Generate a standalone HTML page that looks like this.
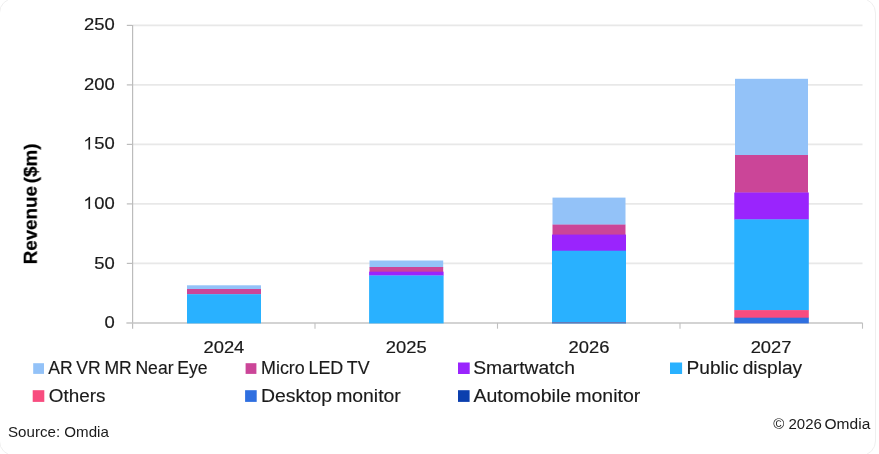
<!DOCTYPE html>
<html><head><meta charset="utf-8">
<style>
html,body{margin:0;padding:0;background:#fff;}
body{width:879px;height:454px;overflow:hidden;position:relative;font-family:"Liberation Sans",sans-serif;}
#card{position:absolute;left:-1px;top:-2px;width:877px;height:458px;border:1px solid #efefef;border-radius:15px;box-sizing:border-box;}
svg{position:absolute;left:0;top:0;}
svg text{font-family:"Liberation Sans",sans-serif;fill:#1a1a1a;}
#txt{filter:grayscale(1);}
</style></head><body>
<div id="card"></div>
<svg width="879" height="454" viewBox="0 0 879 454">
<!-- gridlines -->
<g stroke="#e8e8e8" stroke-width="1.7" fill="none">
<line x1="133" y1="25.4" x2="862.5" y2="25.4"/>
<line x1="133" y1="84.9" x2="862.5" y2="84.9"/>
<line x1="133" y1="144.4" x2="862.5" y2="144.4"/>
<line x1="133" y1="203.9" x2="862.5" y2="203.9"/>
<line x1="133" y1="263.4" x2="862.5" y2="263.4"/>
</g>
<!-- axes -->
<g stroke="#bcbcbc" stroke-width="1.2" fill="none">
<line x1="132.6" y1="24.9" x2="132.6" y2="328.7"/>
<line x1="126.8" y1="25.4" x2="132.6" y2="25.4"/>
<line x1="126.8" y1="84.9" x2="132.6" y2="84.9"/>
<line x1="126.8" y1="144.4" x2="132.6" y2="144.4"/>
<line x1="126.8" y1="203.9" x2="132.6" y2="203.9"/>
<line x1="126.8" y1="263.4" x2="132.6" y2="263.4"/>
</g>
<g stroke="#c4c4c4" stroke-width="1.5" fill="none">
<line x1="126.4" y1="322.9" x2="862.5" y2="322.9"/>
</g>
<g stroke="#c0c0c0" stroke-width="1.1" fill="none">
<line x1="315" y1="322.9" x2="315" y2="328.7"/>
<line x1="497.5" y1="322.9" x2="497.5" y2="328.7"/>
<line x1="680" y1="322.9" x2="680" y2="328.7"/>
<line x1="862.5" y1="322.9" x2="862.5" y2="328.7"/>
</g>
<!-- bars -->
<g id="b2024">
<rect x="187" y="285.3" width="74" height="4" fill="#93c2f8"/>
<rect x="187" y="289" width="74" height="5.4" fill="#cb4598"/>
<rect x="187" y="294.2" width="74" height="29.2" fill="#29b1ff"/>
</g>
<g id="b2025">
<rect x="369.5" y="260.5" width="73.7" height="7" fill="#93c2f8"/>
<rect x="369.5" y="267" width="73.7" height="5" fill="#cb4598"/>
<rect x="369.1" y="271.7" width="74.5" height="4" fill="#9a24fd"/>
<rect x="369.1" y="275.5" width="74.5" height="47.9" fill="#29b1ff"/>
</g>
<g id="b2026">
<rect x="552.5" y="197.6" width="73" height="27.2" fill="#93c2f8"/>
<rect x="552.5" y="224.6" width="73" height="10.4" fill="#cb4598"/>
<rect x="552" y="234.6" width="74" height="16.4" fill="#9a24fd"/>
<rect x="552" y="250.7" width="74" height="72.7" fill="#29b1ff"/>
<rect x="552" y="322.1" width="74" height="1.3" fill="#6a74ae"/>
</g>
<g id="b2027">
<rect x="735" y="78.8" width="73" height="76.4" fill="#93c2f8"/>
<rect x="735" y="155" width="73" height="37.8" fill="#cb4598"/>
<rect x="734.3" y="192.5" width="74.5" height="27.2" fill="#9a24fd"/>
<rect x="734.3" y="219.4" width="74.5" height="91" fill="#29b1ff"/>
<rect x="734.3" y="310.1" width="74.5" height="8" fill="#f84c7f"/>
<rect x="734.3" y="317.7" width="74.5" height="5.7" fill="#2f6fe0"/>
</g>
<!-- legend swatches -->
<g id="sw">
<rect x="33.2" y="363.2" width="10.8" height="10.7" fill="#93c2f8"/>
<rect x="245.6" y="363.2" width="10.8" height="10.7" fill="#cb4598"/>
<rect x="458" y="362.5" width="11.7" height="11.5" fill="#9a24fd"/>
<rect x="670" y="362.5" width="12.1" height="11.5" fill="#29b1ff"/>
<rect x="32.7" y="390.2" width="11.6" height="11.7" fill="#f84c7f"/>
<rect x="245.1" y="390.2" width="11.6" height="11.7" fill="#2f6fe0"/>
<rect x="458" y="390.2" width="11.6" height="11.7" fill="#0b3fae"/>
</g>
<g id="txt">
<!-- y labels -->
<g font-size="17.3" text-anchor="end" transform="translate(114.7,-0.9) scale(1.065,1)" style="stroke:#1a1a1a;stroke-width:0.2px">
<text x="0" y="31.2">250</text>
<text x="0" y="90.8">200</text>
<path transform="translate(-29.56,150.4) scale(0.008447,-0.008447)" d="M763 0H583V1147Q518 1085 412.5 1023Q307 961 223 930V1104Q374 1175 487 1276Q600 1377 647 1472H763Z" fill="#1a1a1a"/><text x="0" y="150.4"><tspan style="fill:none;stroke:none">1</tspan>50</text>
<path transform="translate(-29.56,210) scale(0.008447,-0.008447)" d="M763 0H583V1147Q518 1085 412.5 1023Q307 961 223 930V1104Q374 1175 487 1276Q600 1377 647 1472H763Z" fill="#1a1a1a"/><text x="0" y="210"><tspan style="fill:none;stroke:none">1</tspan>00</text>
<text x="0" y="269.6">50</text>
<text x="0" y="329.2">0</text>
</g>
<!-- x labels -->
<g font-size="17.1" text-anchor="middle" style="stroke:#1a1a1a;stroke-width:0.2px">
<text transform="translate(223.9,353.2) scale(1.075,1)">2024</text>
<text transform="translate(406.2,353.2) scale(1.075,1)">2025</text>
<text transform="translate(589,353.2) scale(1.075,1)">2026</text>
<text transform="translate(771.1,353.2) scale(1.075,1)">2027</text>
</g>
<!-- y title -->
<text transform="translate(36.7,204) rotate(-90)" font-size="18.8" font-weight="bold" text-anchor="middle" word-spacing="-2.4" style="fill:#000;stroke:#000;stroke-width:0.25px">Revenue ($m)</text>
<!-- legend -->
<g id="legend" font-size="17.5" word-spacing="-1.2" style="stroke:#1a1a1a;stroke-width:0.15px">
<text x="48.2" y="373.7" textLength="159.3" lengthAdjust="spacingAndGlyphs">AR VR MR Near Eye</text>
<text x="261" y="373.7" textLength="108.6" lengthAdjust="spacingAndGlyphs">Micro LED TV</text>
<text x="473.2" y="373.7" textLength="101.8" lengthAdjust="spacingAndGlyphs">Smartwatch</text>
<text x="686.6" y="373.7" textLength="115.6" lengthAdjust="spacingAndGlyphs">Public display</text>
<text x="48.8" y="401.7" textLength="56.6" lengthAdjust="spacingAndGlyphs">Others</text>
<text x="261" y="401.7" textLength="139.8" lengthAdjust="spacingAndGlyphs">Desktop monitor</text>
<text x="473.4" y="401.7" textLength="167" lengthAdjust="spacingAndGlyphs">Automobile monitor</text>
</g>
<!-- footer -->
<text x="8" y="437.2" font-size="15" textLength="100.8" lengthAdjust="spacingAndGlyphs">Source: Omdia</text>
<text x="821.9" y="429.3" font-size="15" text-anchor="end">© 2026</text>
<text transform="translate(870.3,429.3) scale(1.037,1)" font-size="15" text-anchor="end">Omdia</text>
</g>
</svg>
</body></html>
